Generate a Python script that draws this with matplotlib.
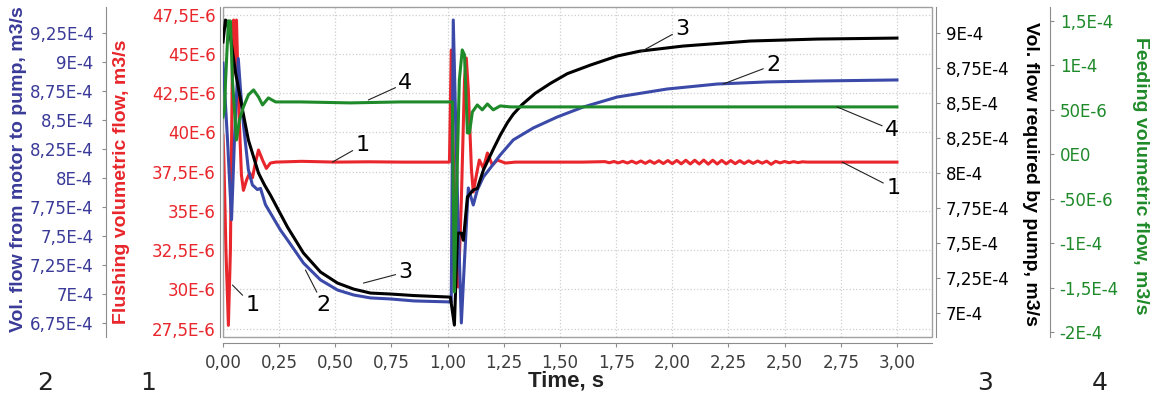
import matplotlib
matplotlib.use("Agg")
import matplotlib.pyplot as plt
from matplotlib.patches import Rectangle

# ---------------------------------------------
# Data (time in s)
# red: E-6 m3/s, blue / black / green: E-4 m3/s
# ---------------------------------------------

time_ticks = [0.0, 0.25, 0.5, 0.75, 1.0, 1.25, 1.5, 1.75, 2.0, 2.25, 2.5, 2.75, 3.0]
time_labels = ['0,00', '0,25', '0,50', '0,75', '1,00', '1,25', '1,50', '1,75',
               '2,00', '2,25', '2,50', '2,75', '3,00']

# 1 - flushing volumetric flow
flush_t = [0.0, 0.004, 0.013, 0.024, 0.033, 0.042, 0.047, 0.053, 0.060, 0.069,
           0.082, 0.091, 0.105, 0.118, 0.131, 0.145, 0.158, 0.176, 0.193, 0.211,
           0.234, 0.35, 0.5, 0.65, 0.8, 0.9, 1.008, 1.016, 1.025, 1.039,
           1.048, 1.061, 1.075, 1.083, 1.092, 1.106, 1.114, 1.128, 1.141, 1.159,
           1.177, 1.199, 1.221, 1.257, 1.301, 1.45, 1.6,
           1.70, 1.72, 1.74, 1.76, 1.78, 1.80, 1.82, 1.84, 1.86, 1.88,
           1.90, 1.92, 1.94, 1.96, 1.98, 2.00, 2.02, 2.04, 2.06, 2.08,
           2.10, 2.12, 2.14, 2.16, 2.18, 2.20, 2.22, 2.24, 2.26, 2.28,
           2.30, 2.32, 2.34, 2.36, 2.38, 2.40, 2.42, 2.44, 2.46, 2.48,
           2.50, 2.52, 2.54, 2.56, 2.58, 2.60, 2.7, 2.85, 3.0]
flush_v = [39.8, 38.2, 32.5, 27.7, 32.5, 44.6, 47.15, 43.96, 47.15, 42.05,
           37.28, 36.3, 36.96, 37.4, 37.1, 38.1, 38.87, 38.23, 37.7, 38.04,
           38.1, 38.15, 38.1, 38.12, 38.1, 38.1, 38.1, 45.24, 38.87, 31.86,
           30.14, 35.69, 43.33, 44.73, 42.69, 37.6, 36.2, 37.28, 38.23, 37.72,
           38.68, 37.91, 38.23, 38.04, 38.1, 38.1, 38.1,
           38.13, 38.06, 38.14, 38.05, 38.15, 38.04, 38.16, 38.03, 38.17, 38.02,
           38.18, 38.02, 38.19, 38.01, 38.2, 38.0, 38.21, 37.99, 38.22, 37.98,
           38.22, 37.98, 38.23, 37.97, 38.22, 37.98, 38.21, 37.99, 38.2, 38.0,
           38.19, 38.01, 38.18, 38.02, 38.17, 38.03, 38.16, 37.96, 38.15, 38.05,
           38.14, 38.06, 38.13, 38.07, 38.12, 38.1, 38.1, 38.1, 38.1]

# 2 - vol. flow from motor to pump
motor_t = [0.0, 0.004, 0.02, 0.038, 0.051, 0.068, 0.078, 0.091, 0.113, 0.131,
           0.153, 0.167, 0.189, 0.211, 0.256, 0.287, 0.358, 0.434, 0.51, 0.582,
           0.656, 0.745, 0.85, 1.016, 1.025, 1.044, 1.061, 1.075, 1.092, 1.114,
           1.132, 1.159, 1.19, 1.234, 1.292, 1.381, 1.488, 1.604, 1.755, 1.977,
           2.2, 2.422, 2.645, 3.0]
motor_v = [8.99, 8.87, 8.33, 7.64, 8.33, 9.03, 8.76, 8.46, 8.07, 7.94,
           7.90, 7.91, 7.77, 7.698, 7.55, 7.466, 7.267, 7.121, 7.034, 6.991,
           6.966, 6.957, 6.94, 6.931, 9.362, 7.81, 6.75, 7.29, 7.914, 7.767,
           7.897, 8.009, 8.086, 8.198, 8.328, 8.431, 8.526, 8.612, 8.698, 8.767,
           8.81, 8.828, 8.836, 8.845]

# 3 - vol. flow required by pump
pump_t = [0.0, 0.011, 0.016, 0.033, 0.056, 0.087, 0.113, 0.158, 0.185, 0.211,
          0.287, 0.358, 0.434, 0.51, 0.582, 0.656, 0.745, 0.85, 1.012,
          1.03, 1.044, 1.061, 1.07, 1.088, 1.114, 1.132, 1.159,
          1.203, 1.234, 1.266, 1.292, 1.332, 1.39, 1.457, 1.533, 1.635, 1.755,
          1.857, 2.048, 2.347, 2.645, 3.0]
pump_v = [8.936, 9.093, 9.086, 8.971, 8.714, 8.45, 8.236, 8.0, 7.914, 7.843,
          7.614, 7.429, 7.293, 7.214, 7.171, 7.143, 7.136, 7.125, 7.114,
          6.914, 7.571, 7.571, 7.52, 7.83, 7.879, 7.89, 8.021,
          8.17, 8.27, 8.36, 8.42, 8.49, 8.57, 8.64, 8.71, 8.771, 8.836,
          8.871, 8.907, 8.943, 8.957, 8.964]

# 4 - feeding volumetric flow
feed_t = [0.0, 0.007, 0.011, 0.024, 0.033, 0.042, 0.060, 0.073, 0.091, 0.113,
          0.136, 0.158, 0.176, 0.202, 0.234, 0.345, 0.567, 0.79, 1.021, 1.03,
          1.039, 1.052, 1.065, 1.075, 1.088, 1.097, 1.11, 1.132, 1.154, 1.177,
          1.203, 1.234, 1.279, 1.679, 2.124, 3.0]
feed_v = [0.42, 0.50, 0.80, 1.5, 1.5, 0.84, 0.161, 0.386, 0.533, 0.668,
          0.724, 0.645, 0.555, 0.634, 0.589, 0.589, 0.578, 0.589, 0.589, -1.55,
          -0.51, 0.836, 1.174, 1.118, 0.24, 0.24, 0.476, 0.555, 0.5, 0.566,
          0.5, 0.544, 0.533, 0.533, 0.533, 0.533]

flush_ticks = [27.5, 30, 32.5, 35, 37.5, 40, 42.5, 45, 47.5]
flush_labels = ['27,5E-6', '30E-6', '32,5E-6', '35E-6', '37,5E-6', '40E-6',
                '42,5E-6', '45E-6', '47,5E-6']
motor_ticks = [6.75, 7.0, 7.25, 7.5, 7.75, 8.0, 8.25, 8.5, 8.75, 9.0, 9.25]
motor_labels = ['6,75E-4', '7E-4', '7,25E-4', '7,5E-4', '7,75E-4', '8E-4',
                '8,25E-4', '8,5E-4', '8,75E-4', '9E-4', '9,25E-4']
pump_ticks = [7.0, 7.25, 7.5, 7.75, 8.0, 8.25, 8.5, 8.75, 9.0]
pump_labels = ['7E-4', '7,25E-4', '7,5E-4', '7,75E-4', '8E-4', '8,25E-4',
               '8,5E-4', '8,75E-4', '9E-4']
feed_ticks = [-2.0, -1.5, -1.0, -0.5, 0.0, 0.5, 1.0, 1.5]
feed_labels = ['-2E-4', '-1,5E-4', '-1E-4', '-50E-6', '0E0', '50E-6', '1E-4', '1,5E-4']

# -------------
# Colours/fonts
# -------------
RED = '#e8262b'
BLUE = '#3b4aa8'
BLUE_TXT = '#3a3a98'
GREEN = '#1f8a2a'
SPINE = '#8c8c8c'
TITLE_FONT = ['Liberation Sans', 'DejaVu Sans']

W, H = 1152, 396
fig = plt.figure(figsize=(W / 100, H / 100), dpi=100)
L, R, T, B = 223, 932, 7, 337
ax = fig.add_axes([L / W, 1 - B / H, (R - L) / W, (B - T) / H])

ax_m = ax.twinx()   # blue, far left
ax_p = ax.twinx()   # black, right
ax_f = ax.twinx()   # green, far right


def clean(a, keep, pos):
    for s in a.spines:
        a.spines[s].set_visible(False)
    a.spines[keep].set_visible(True)
    a.spines[keep].set_color(SPINE)
    a.spines[keep].set_position(pos)


clean(ax, 'left', ('outward', 2.2))
ax.spines['bottom'].set_visible(True)
ax.spines['bottom'].set_color(SPINE)
ax.spines['bottom'].set_position(('outward', 4.3))
clean(ax_m, 'left', ('axes', -0.165))
ax_m.yaxis.tick_left()
clean(ax_p, 'right', ('outward', 3))
clean(ax_f, 'right', ('axes', 1.1664))

ax.add_patch(Rectangle((0, 0), 1, 1, transform=ax.transAxes, fill=False,
                       ec='#a0a0a0', lw=1.0, clip_on=False, zorder=5))

# curves
ax.plot(flush_t, flush_v, color=RED, lw=2.2, zorder=3)
ax_m.plot(motor_t, motor_v, color=BLUE, lw=2.2)
ax_p.plot(pump_t, pump_v, color='black', lw=2.2)
ax_f.plot(feed_t, feed_v, color=GREEN, lw=2.2)

ax.set_xlim(0, 3.156)
ax.set_ylim(26.96, 47.98)
ax_m.set_ylim(6.629, 9.474)
ax_p.set_ylim(6.829, 9.186)
ax_f.set_ylim(-2.056, 1.657)

ax.set_xticks(time_ticks)
ax.set_xticklabels(time_labels)
ax.set_yticks(flush_ticks)
ax.set_yticklabels(flush_labels)
ax_m.set_yticks(motor_ticks)
ax_m.set_yticklabels(motor_labels)
ax_p.set_yticks(pump_ticks)
ax_p.set_yticklabels(pump_labels)
ax_f.set_yticks(feed_ticks)
ax_f.set_yticklabels(feed_labels)

ax.grid(True, color='#cfcfcf', ls=':', lw=0.9)
ax.set_axisbelow(True)

ax.tick_params(axis='x', colors=SPINE, labelcolor='#3c3c3c', labelsize=12,
               length=3, pad=5)
ax.tick_params(axis='y', colors=SPINE, labelcolor=RED, labelsize=12, length=0, pad=3)
ax_m.tick_params(axis='y', colors=SPINE, labelcolor=BLUE_TXT, labelsize=12, length=3, pad=6)
ax_p.tick_params(axis='y', colors=SPINE, labelcolor='black', labelsize=12, length=3, pad=4)
ax_f.tick_params(axis='y', colors=SPINE, labelcolor=GREEN, labelsize=12, length=3, pad=4)

# axis titles
lab = dict(fontsize=14, fontweight='bold', family=TITLE_FONT, va='center', ha='center')
fig.text(19 / W, 1 - 169 / H, 'Vol. flow from motor to pump, m3/s', color=BLUE_TXT,
         rotation=90, **lab)
fig.text(122 / W, 1 - 182 / H, 'Flushing volumetric flow, m3/s', color=RED,
         rotation=90, **lab)
fig.text(1030 / W, 1 - 174 / H, 'Vol. flow required by pump, m3/s', color='black',
         rotation=270, **lab)
fig.text(1140 / W, 1 - 176 / H, 'Feeding volumetric flow, m3/s', color=GREEN,
         rotation=270, **lab)
fig.text(566 / W, 1 - 381 / H, 'Time, s', color='#222222',
         **dict(lab, fontsize=16))

for x, s in [(45, '2'), (148, '1'), (985, '3'), (1100, '4')]:
    fig.text(x / W, 1 - 383 / H, s, fontsize=18, ha='center', va='center', color='#222222')

# numbered leaders
arrow = dict(arrowstyle='-', color='#222222', lw=0.8, shrinkA=0, shrinkB=0)
num = dict(fontsize=16, ha='center', va='center', color='black', zorder=10,
           arrowprops=arrow)
ax.annotate('1', xy=(0.487, 38.1), xytext=(0.621, 39.19), **num)
ax.annotate('1', xy=(0.042, 30.27), xytext=(0.131, 28.99), **num)
ax.annotate('1', xy=(2.756, 38.1), xytext=(2.983, 36.45), **num)
ax_m.annotate('2', xy=(0.367, 7.207), xytext=(0.447, 6.905), **num)
ax_m.annotate('2', xy=(2.226, 8.81), xytext=(2.449, 8.974), **num)
ax_p.annotate('3', xy=(0.625, 7.214), xytext=(0.812, 7.293), **num)
ax_p.annotate('3', xy=(1.857, 8.864), xytext=(2.044, 9.029), **num)
ax_f.annotate('4', xy=(0.647, 0.611), xytext=(0.812, 0.80), **num)
ax_f.annotate('4', xy=(2.733, 0.533), xytext=(2.978, 0.274), **num)

fig.savefig('out.png', dpi=100)
